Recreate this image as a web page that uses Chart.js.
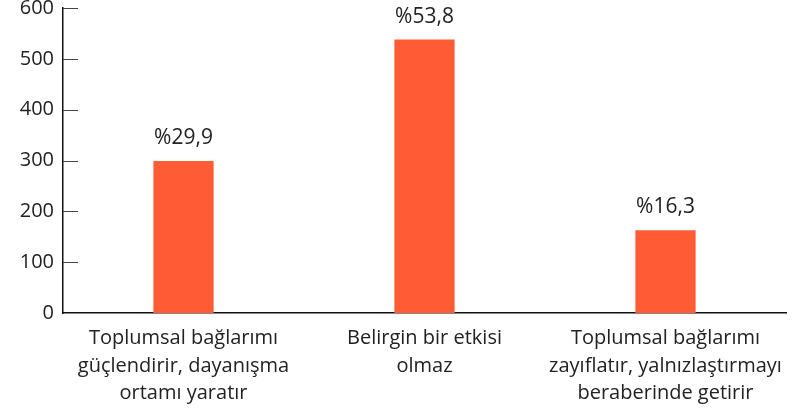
<!DOCTYPE html>
<html>
<head>
<meta charset="utf-8">
<script src="https://cdn.jsdelivr.net/npm/chart.js@4"></script>
<style>
  html, body { margin: 0; padding: 0; background: #fff; }
  #wrap { width: 804px; height: 416px; position: relative; }
</style>
</head>
<body>
<div id="wrap"><canvas id="bar-chart"></canvas></div>
<script>
var labels = [
  ["Toplumsal bağlarımı", "güçlendirir, dayanışma", "ortamı yaratır"],
  ["Belirgin bir etkisi", "olmaz"],
  ["Toplumsal bağlarımı", "zayıflatır, yalnızlaştırmayı", "beraberinde getirir"]
];
var values = [299, 538, 163];
var valueLabels = ["%29,9", "%53,8", "%16,3"];
var yTicks = [0, 100, 200, 300, 400, 500, 600];

var fontFamily = "'Open Sans', sans-serif";

// short tick marks drawn inside the plot, next to the y axis
var innerTicks = {
  id: 'innerTicks',
  afterDraw: function(chart) {
    var ctx = chart.ctx, y = chart.scales.y, left = chart.chartArea.left;
    ctx.save();
    ctx.strokeStyle = "#444";
    ctx.lineWidth = 1;
    yTicks.forEach(function(t) {
      if (t === 0) return;
      var py = Math.round(y.getPixelForValue(t)) + 0.5;
      ctx.beginPath();
      ctx.moveTo(left, py);
      ctx.lineTo(left + 15, py);
      ctx.stroke();
    });
    ctx.restore();
  }
};

var barLabels = {
  id: 'barLabels',
  afterDatasetsDraw: function(chart) {
    var ctx = chart.ctx;
    var meta = chart.getDatasetMeta(0);
    ctx.save();
    ctx.fillStyle = "#222";
    ctx.font = "21px " + fontFamily;
    ctx.textAlign = "center";
    ctx.textBaseline = "alphabetic";
    meta.data.forEach(function(bar, i) {
      ctx.fillText(valueLabels[i], bar.x, bar.y - 17);
    });
    ctx.restore();
  }
};

new Chart(document.getElementById("bar-chart"), {
  type: 'bar',
  data: {
    labels: labels,
    datasets: [{
      data: values,
      backgroundColor: "#ff5b35",
      barPercentage: 0.5,
      categoryPercentage: 0.5
    }]
  },
  options: {
    responsive: true,
    maintainAspectRatio: false,
    animation: false,
    layout: { padding: { top: 8, right: 18, left: 0, bottom: 0 } },
    plugins: {
      legend: { display: false },
      tooltip: { enabled: false }
    },
    scales: {
      x: {
        grid: { display: false, drawTicks: false },
        border: { display: true, color: "#111", width: 1.5 },
        ticks: {
          color: "#222",
          font: { family: fontFamily, size: 20, lineHeight: 1.36 },
          padding: 12,
          maxRotation: 0,
          autoSkip: false
        },
        afterFit: function(scale) { scale.height = 103; }
      },
      y: {
        min: 0,
        max: 600,
        grid: { display: false, drawTicks: false },
        border: { display: true, color: "#111", width: 1.5 },
        ticks: {
          stepSize: 100,
          color: "#222",
          font: { family: fontFamily, size: 20 },
          padding: 9
        },
        afterFit: function(scale) {
          scale.width = 63;
          scale.paddingTop = 0;
          scale.paddingBottom = 0;
        }
      }
    }
  },
  plugins: [innerTicks, barLabels]
});
</script>
</body>
</html>
